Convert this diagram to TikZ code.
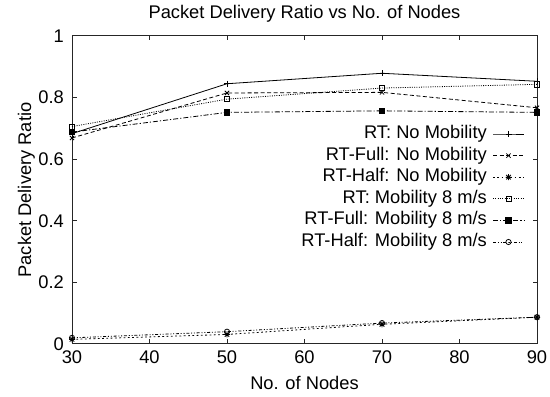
\documentclass[tikz,border=0pt]{standalone}
\usepackage{fontspec}
\setmainfont{Liberation Sans}
\usetikzlibrary{plotmarks}

% gnuplot-style eight-arm star (plus and cross on top of each other)
\pgfdeclareplotmark{gpstar}{%
  \pgfpathmoveto{\pgfqpoint{-\pgfplotmarksize}{0pt}}%
  \pgfpathlineto{\pgfqpoint{\pgfplotmarksize}{0pt}}%
  \pgfpathmoveto{\pgfqpoint{0pt}{-\pgfplotmarksize}}%
  \pgfpathlineto{\pgfqpoint{0pt}{\pgfplotmarksize}}%
  \pgfpathmoveto{\pgfqpoint{-.75\pgfplotmarksize}{-.75\pgfplotmarksize}}%
  \pgfpathlineto{\pgfqpoint{.75\pgfplotmarksize}{.75\pgfplotmarksize}}%
  \pgfpathmoveto{\pgfqpoint{-.75\pgfplotmarksize}{.75\pgfplotmarksize}}%
  \pgfpathlineto{\pgfqpoint{.75\pgfplotmarksize}{-.75\pgfplotmarksize}}%
  \pgfusepathqstroke}

\begin{document}
\begin{tikzpicture}[x=1pt,y=1pt,
  lbl/.style={font=\fontsize{18.3}{22}\selectfont, inner sep=0pt},
  frame/.style={line width=1pt, black!85},
  tick/.style={line width=0.8pt, black!85},
  series/.style={line width=0.8pt, black, mark size=3pt,
                 mark options={solid, line width=0.8pt, fill=black}},
  ltA/.style={series, solid, mark=+},
  ltB/.style={series, dash pattern=on 4pt off 2.5pt, mark=x},
  ltC/.style={series, dash pattern=on 1.8pt off 2.5pt, mark=gpstar},
  ltD/.style={series, dash pattern=on 1pt off 1.3pt, mark=square, mark size=2.6pt},
  ltE/.style={series, dash pattern=on 5pt off 2pt on 1.2pt off 2pt, mark=square*, mark size=2.8pt},
  ltF/.style={series, dash pattern=on 3pt off 1.8pt on 1pt off 1.8pt on 1pt off 1.8pt, mark=o, mark size=2.6pt},
]
\useasboundingbox (0,0) rectangle (550,397);

% title and axis labels
\node[lbl, anchor=base] (title) at (304.5,378) {Packet Delivery Ratio vs No. of Nodes};
\node[lbl, anchor=base] (xlabel) at (304.5,7) {No. of Nodes};
\node[lbl, anchor=base, rotate=90] (ylabel) at (31,207) {Packet Delivery Ratio};

% plot frame
\draw[frame] (72,53) rectangle (537,361);

% ticks and tick labels
\foreach \v/\t in {0/0, 0.2/0.2, 0.4/0.4, 0.6/0.6, 0.8/0.8, 1/1} {
  \node[lbl, anchor=east] (ytick-\t) at (64,{53+308*\v}) {\t};
}
\foreach \v in {0.2,0.4,0.6,0.8} {
  \draw[tick] (72,{53+308*\v}) -- ++(4.5,0);
  \draw[tick] (537,{53+308*\v}) -- ++(-4.5,0);
}
\foreach \n in {30,40,50,60,70,80,90} {
  \node[lbl, anchor=base] (xtick-\n) at ({72+(\n-30)*7.75},34) {\n};
}
\foreach \n in {40,50,60,70,80} {
  \draw[tick] ({72+(\n-30)*7.75},53) -- ++(0,4.5);
  \draw[tick] ({72+(\n-30)*7.75},361) -- ++(0,-4.5);
}

% data series
\begin{scope}[shift={(-160.5pt,53pt)}, x=7.75pt, y=308pt]
  \draw[ltF] plot coordinates {(30,0.020) (50,0.040) (70,0.068) (90,0.087)};
  \draw[ltC] plot coordinates {(30,0.015) (50,0.031) (70,0.064) (90,0.087)};
  \draw[ltE] plot coordinates {(30,0.688) (50,0.752) (70,0.757) (90,0.752)};
  \draw[ltB] plot coordinates {(30,0.669) (50,0.815) (70,0.817) (90,0.767)};
  \draw[ltD] plot coordinates {(30,0.706) (50,0.795) (70,0.831) (90,0.843)};
  \draw[ltA] plot coordinates {(30,0.683) (50,0.845) (70,0.879) (90,0.853)};
\end{scope}

% key
\node[lbl, anchor=base east] (key1) at (487,258.5) {RT: No Mobility};
\node[lbl, anchor=base east] (key2) at (487,236.9) {RT-Full: No Mobility};
\node[lbl, anchor=base east] (key3) at (487,215.3) {RT-Half: No Mobility};
\node[lbl, anchor=base east] (key4) at (487,193.7) {RT: Mobility 8 m/s};
\node[lbl, anchor=base east] (key5) at (487,172.1) {RT-Full: Mobility 8 m/s};
\node[lbl, anchor=base east] (key6) at (487,150.5) {RT-Half: Mobility 8 m/s};
\draw[ltA] plot[mark indices={2}] coordinates {(493,263.0) (508.5,263.0) (524,263.0)};
\draw[ltB] plot[mark indices={2}] coordinates {(493,241.4) (508.5,241.4) (524,241.4)};
\draw[ltC] plot[mark indices={2}] coordinates {(493,219.8) (508.5,219.8) (524,219.8)};
\draw[ltD] plot[mark indices={2}] coordinates {(493,198.2) (508.5,198.2) (524,198.2)};
\draw[ltE] plot[mark indices={2}] coordinates {(493,176.6) (508.5,176.6) (524,176.6)};
\draw[ltF] plot[mark indices={2}] coordinates {(493,155.0) (508.5,155.0) (524,155.0)};
\end{tikzpicture}
\end{document}
